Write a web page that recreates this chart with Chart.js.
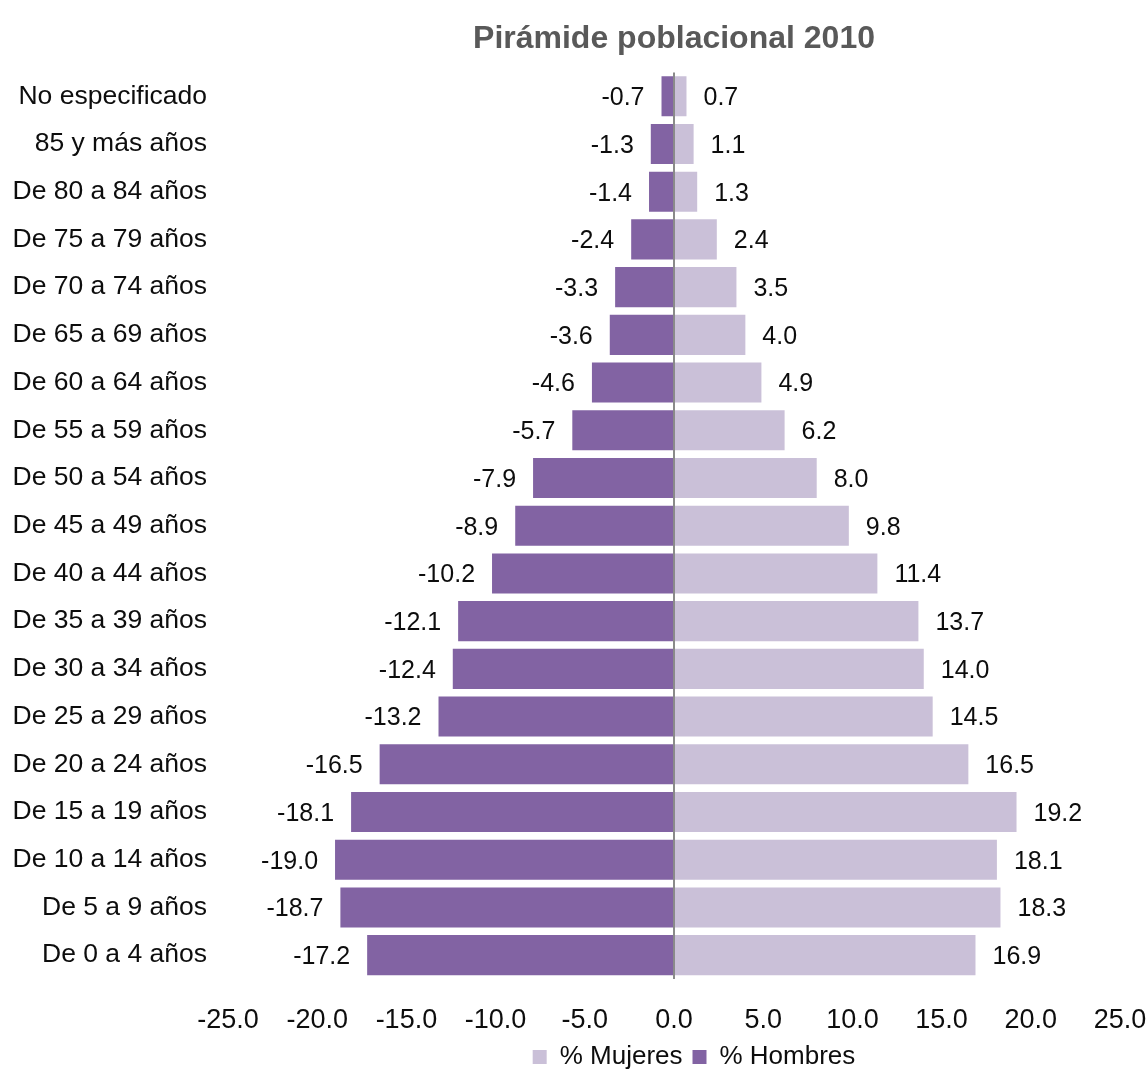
<!DOCTYPE html>
<html>
<head>
<meta charset="utf-8">
<title>Pirámide poblacional 2010</title>
<script src="https://cdn.jsdelivr.net/npm/chart.js@4/dist/chart.umd.min.js"></script>
<style>
    body { margin: 0; background: #fff; }
    #wrap { width: 1148px; height: 1080px; }
</style>
</head>
<body>
<div id="wrap">
    <canvas id="piramide" width="1148" height="1080"></canvas>
</div>
<script>
const grupos = [
    "No especificado",
    "85 y más años",
    "De 80 a 84 años",
    "De 75 a 79 años",
    "De 70 a 74 años",
    "De 65 a 69 años",
    "De 60 a 64 años",
    "De 55 a 59 años",
    "De 50 a 54 años",
    "De 45 a 49 años",
    "De 40 a 44 años",
    "De 35 a 39 años",
    "De 30 a 34 años",
    "De 25 a 29 años",
    "De 20 a 24 años",
    "De 15 a 19 años",
    "De 10 a 14 años",
    "De 5 a 9 años",
    "De 0 a 4 años",
];
const mujeres = [
    0.7, 1.1, 1.3, 2.4, 3.5, 4.0, 4.9, 6.2, 8.0, 9.8,
    11.4, 13.7, 14.0, 14.5, 16.5, 19.2, 18.1, 18.3, 16.9,
];
const hombres = [
    -0.7, -1.3, -1.4, -2.4, -3.3, -3.6, -4.6, -5.7, -7.9, -8.9,
    -10.2, -12.1, -12.4, -13.2, -16.5, -18.1, -19.0, -18.7, -17.2,
];
const ejeX = { min: -25, max: 25, paso: 5 };

const fuente = "'Liberation Sans', Arial, sans-serif";
const tinta = "#0d0d0d";

// escribe el valor junto al extremo de cada barra
const etiquetas = {
    id: "etiquetas",
    afterLayout(chart) {
        // la leyenda va un poco a la derecha del centro del área
        chart.legend.left += 20;
        chart.legend.right += 20;
    },
    afterDatasetsDraw(chart) {
        const ctx = chart.ctx;
        ctx.save();
        ctx.font = "25px " + fuente;
        ctx.fillStyle = tinta;
        ctx.textBaseline = "middle";
        chart.data.datasets.forEach((ds, i) => {
            chart.getDatasetMeta(i).data.forEach((bar, j) => {
                const v = ds.data[j];
                if (v < 0) {
                    ctx.textAlign = "right";
                    ctx.fillText(v.toFixed(1), bar.x - 17, bar.y + 2);
                } else {
                    ctx.textAlign = "left";
                    ctx.fillText(v.toFixed(1), bar.x + 17, bar.y + 2);
                }
            });
        });
        ctx.restore();
    },
};

new Chart(document.getElementById("piramide").getContext("2d"), {
    type: "bar",
    data: {
        labels: grupos,
        datasets: [
            {
                label: "% Mujeres",
                data: mujeres,
                backgroundColor: "#cac0d8",
                barPercentage: 0.84,
                categoryPercentage: 1,
            },
            {
                label: "% Hombres",
                data: hombres,
                backgroundColor: "#8263a3",
                barPercentage: 0.84,
                categoryPercentage: 1,
            },
        ],
    },
    options: {
        indexAxis: "y",
        responsive: false,
        animation: false,
        layout: { padding: 0 },
        scales: {
            x: {
                stacked: true,
                min: ejeX.min,
                max: ejeX.max,
                z: 1,
                border: { display: false },
                grid: {
                    drawTicks: false,
                    lineWidth: 2,
                    color: (c) => (c.tick && c.tick.value === 0 ? "#8a8a8a" : "rgba(0,0,0,0)"),
                },
                ticks: {
                    stepSize: ejeX.paso,
                    padding: 25,
                    color: tinta,
                    font: { family: fuente, size: 27 },
                    callback: (v) => Number(v).toFixed(1),
                },
                // alto fijo del eje y margen derecho justo para "25.0"
                afterFit: (s) => {
                    s.height = 55;
                    s.paddingRight = 28;
                },
            },
            y: {
                stacked: true,
                border: { display: false },
                grid: { display: false, drawTicks: false },
                ticks: {
                    padding: 21,
                    color: tinta,
                    font: { family: fuente, size: 26.5 },
                },
                afterFit: (s) => {
                    s.width = 228;
                },
            },
        },
        plugins: {
            title: {
                display: true,
                text: "Pirámide poblacional 2010",
                fullSize: false,
                color: "#595959",
                font: { family: fuente, size: 32, weight: "bold" },
                padding: { top: 20, bottom: 14 },
            },
            legend: {
                position: "bottom",
                fullSize: false,
                labels: {
                    boxWidth: 14,
                    boxHeight: 14,
                    padding: 10,
                    color: tinta,
                    font: { family: fuente, size: 26 },
                },
            },
            tooltip: { enabled: false },
        },
    },
    plugins: [etiquetas],
});
</script>
</body>
</html>
